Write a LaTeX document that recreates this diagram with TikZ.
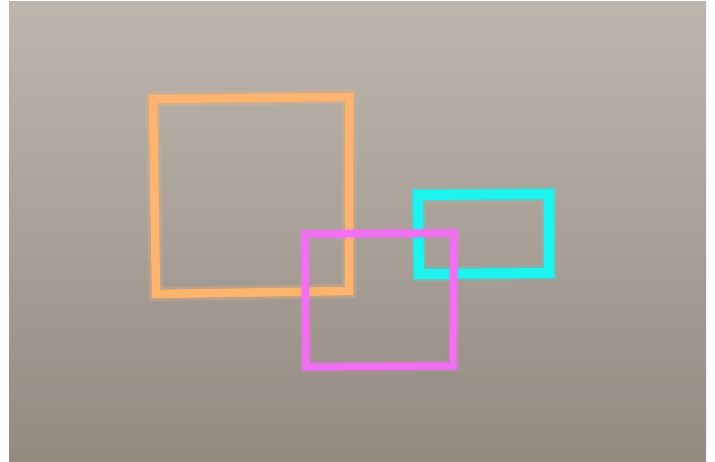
\documentclass[tikz,border=0pt]{standalone}
\usetikzlibrary{shadings}
\definecolor{bgtop}{HTML}{BEB6AC}
\definecolor{bgbot}{HTML}{938A80}
\definecolor{bgmid}{HTML}{A9A198}
\definecolor{orangeline}{HTML}{FDB46E}
\definecolor{magline}{HTML}{F26EF2}
\definecolor{cyanline}{HTML}{1CF4F0}
\tikzset{
  glow/.style={line join=miter, opacity=0.25},
  frameline/.style={line join=miter}
}
\begin{document}
\begin{tikzpicture}[x=1pt,y=-1pt]
\useasboundingbox (0,0) rectangle (715,462);
\fill[white] (0,0) rectangle (715,462);
\shade[top color=bgtop, bottom color=bgbot, middle color=bgmid] (9,2) rectangle (706,462);
% orange frame
\draw[glow, orangeline, line width=14pt] (153,99) -- (349,97) -- (349,291) -- (156,294) -- cycle;
\draw[frameline, orangeline, line width=8.5pt] (153,99) -- (349,97) -- (349,291) -- (156,294) -- cycle;
% cyan frame
\draw[glow, cyanline, line width=15pt] (418,195) -- (549,194) -- (549,273) -- (419,274) -- cycle;
\draw[frameline, cyanline, line width=10pt] (418,195) -- (549,194) -- (549,273) -- (419,274) -- cycle;
% magenta frame
\draw[glow, magline, line width=12pt] (305,234) -- (454,233) -- (453,366) -- (306,367) -- cycle;
\draw[frameline, magline, line width=7pt] (305,234) -- (454,233) -- (453,366) -- (306,367) -- cycle;
\end{tikzpicture}
\end{document}
